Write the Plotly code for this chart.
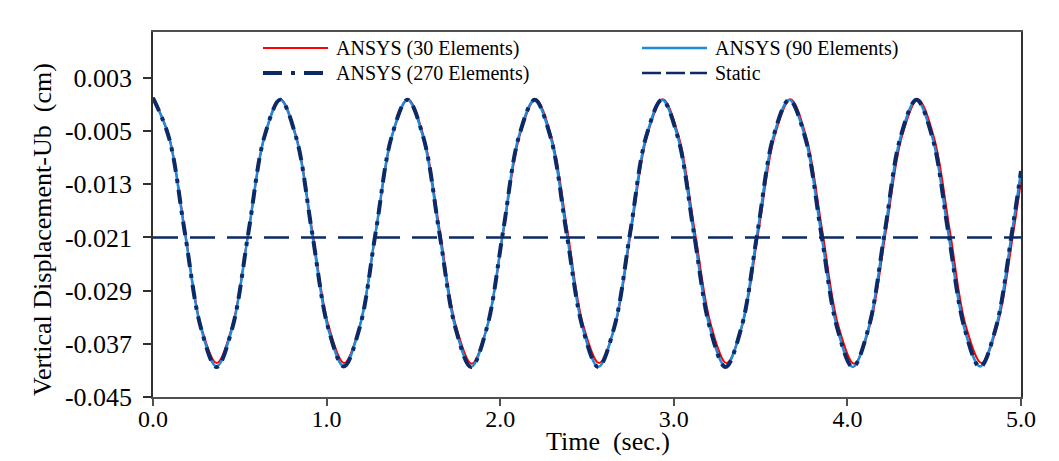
import plotly.graph_objects as go

# Time samples (s) and vertical displacement Ub (cm) for each mesh
t_30 = [0.000, 0.092, 0.184, 0.275, 0.367, 0.459, 0.551, 0.643, 0.734, 0.826,
        0.918, 1.010, 1.101, 1.193, 1.285, 1.377, 1.469, 1.560, 1.652, 1.744,
        1.836, 1.928, 2.019, 2.111, 2.203, 2.295, 2.387, 2.478, 2.570, 2.662,
        2.754, 2.845, 2.937, 3.029, 3.121, 3.213, 3.304, 3.396, 3.488, 3.580,
        3.672, 3.763, 3.855, 3.947, 4.039, 4.131, 4.222, 4.314, 4.406, 4.498,
        4.590, 4.681, 4.773, 4.865, 4.957, 5.000]
ub_30 = [0.0000, -0.0058, -0.0200, -0.0342, -0.0399, -0.0341, -0.0200, -0.0058, -0.0002, -0.0059,
         -0.0201, -0.0342, -0.0399, -0.0341, -0.0199, -0.0058, -0.0002, -0.0059, -0.0200, -0.0342,
         -0.0400, -0.0341, -0.0200, -0.0058, -0.0002, -0.0059, -0.0200, -0.0342, -0.0399, -0.0342,
         -0.0200, -0.0058, -0.0002, -0.0059, -0.0201, -0.0341, -0.0399, -0.0341, -0.0200, -0.0058,
         -0.0002, -0.0059, -0.0200, -0.0342, -0.0400, -0.0341, -0.0200, -0.0058, -0.0002, -0.0059,
         -0.0200, -0.0342, -0.0399, -0.0341, -0.0200, -0.0125]

t_fine = [0.000, 0.092, 0.183, 0.275, 0.366, 0.458, 0.550, 0.641, 0.733, 0.825,
          0.916, 1.008, 1.099, 1.191, 1.283, 1.374, 1.466, 1.558, 1.649, 1.741,
          1.832, 1.924, 2.016, 2.107, 2.199, 2.291, 2.382, 2.474, 2.565, 2.657,
          2.749, 2.840, 2.932, 3.024, 3.115, 3.207, 3.298, 3.390, 3.482, 3.573,
          3.665, 3.757, 3.848, 3.940, 4.031, 4.123, 4.215, 4.306, 4.398, 4.490,
          4.581, 4.673, 4.764, 4.856, 4.948, 5.000]
ub_90 = [0.0000, -0.0059, -0.0202, -0.0345, -0.0404, -0.0345, -0.0202, -0.0059, -0.0003, -0.0060,
         -0.0203, -0.0346, -0.0404, -0.0344, -0.0201, -0.0059, -0.0003, -0.0061, -0.0203, -0.0345,
         -0.0405, -0.0345, -0.0202, -0.0058, -0.0003, -0.0060, -0.0202, -0.0345, -0.0405, -0.0346,
         -0.0203, -0.0059, -0.0003, -0.0060, -0.0203, -0.0345, -0.0404, -0.0345, -0.0202, -0.0059,
         -0.0003, -0.0060, -0.0202, -0.0345, -0.0405, -0.0345, -0.0202, -0.0059, -0.0003, -0.0060,
         -0.0203, -0.0346, -0.0404, -0.0345, -0.0202, -0.0110]
ub_270 = [0.0000, -0.0060, -0.0202, -0.0345, -0.0405, -0.0345, -0.0202, -0.0059, -0.0003, -0.0060,
          -0.0202, -0.0345, -0.0404, -0.0345, -0.0202, -0.0059, -0.0003, -0.0060, -0.0202, -0.0345,
          -0.0405, -0.0345, -0.0202, -0.0059, -0.0003, -0.0060, -0.0203, -0.0345, -0.0405, -0.0345,
          -0.0202, -0.0059, -0.0003, -0.0060, -0.0202, -0.0345, -0.0405, -0.0345, -0.0202, -0.0059,
          -0.0003, -0.0060, -0.0202, -0.0345, -0.0405, -0.0345, -0.0202, -0.0059, -0.0003, -0.0060,
          -0.0202, -0.0345, -0.0405, -0.0345, -0.0202, -0.0110]

t_static = [0.0, 5.0]
ub_static = [-0.021, -0.021]

y_ticks = [-0.045, -0.037, -0.029, -0.021, -0.013, -0.005, 0.003]
y_tick_text = ["-0.045", "-0.037", "-0.029", "-0.021", "-0.013", "-0.005", "0.003"]
x_ticks = [0, 1, 2, 3, 4, 5]
x_tick_text = ["0.0", "1.0", "2.0", "3.0", "4.0", "5.0"]

RED = "#FF0000"
BLUE = "#1E8ADB"
NAVY = "#0B2A66"
DASHDOT = "14px,7px,4px,7px"
DASHED = "25px,12px"
FONT = "Liberation Serif"

series = [
    ("ANSYS (30 Elements)", t_30, ub_30, dict(color=RED, width=2)),
    ("ANSYS (90 Elements)", t_fine, ub_90, dict(color=BLUE, width=2.5)),
    ("ANSYS (270 Elements)", t_fine, ub_270, dict(color=NAVY, width=4, dash=DASHDOT)),
    ("Static", t_static, ub_static, dict(color=NAVY, width=2.5, dash=DASHED)),
]

fig = go.Figure()
for name, t, ub, line in series:
    shape = "linear" if name == "Static" else "spline"
    fig.add_trace(go.Scatter(x=t, y=ub, name=name, mode="lines",
                             line=dict(shape=shape, **line), showlegend=False))

# plot-area geometry in pixels, used to place the hand-drawn legend and titles
L, R, T, B = 153, 1021, 32, 397


def px(x):
    return (x - L) / (R - L)


def py(y):
    return (B - y) / (B - T)


legend_items = [
    ("ANSYS (30 Elements)", dict(color=RED, width=2), 263, 48),
    ("ANSYS (90 Elements)", dict(color=BLUE, width=2.5), 642, 48),
    ("ANSYS (270 Elements)", dict(color=NAVY, width=4, dash="19px,9px,4px,9px"), 263, 73),
    ("Static", dict(color=NAVY, width=2.5, dash="19px,5px"), 642, 73),
]
shapes = []
annotations = []
for label, line, x0, y0 in legend_items:
    shapes.append(dict(type="line", xref="paper", yref="paper",
                       x0=px(x0), x1=px(x0 + 65), y0=py(y0), y1=py(y0), line=line))
    annotations.append(dict(text=label, xref="paper", yref="paper",
                            x=px(x0 + 71), y=py(y0), xanchor="left", yanchor="middle",
                            showarrow=False, font=dict(family=FONT, size=20, color="#000")))

annotations.append(dict(text="Time  (sec.)", xref="paper", yref="paper",
                        x=px(608), y=py(441), xanchor="center", yanchor="middle",
                        showarrow=False, font=dict(family=FONT, size=26, color="#000")))
annotations.append(dict(text="Vertical Displacement-Ub  (cm)", xref="paper", yref="paper",
                        x=px(42), y=py(230), xanchor="center", yanchor="middle",
                        textangle=-90, showarrow=False,
                        font=dict(family=FONT, size=26, color="#000")))

fig.update_layout(
    width=1059, height=461,
    margin=dict(l=L, r=1059 - R, t=T, b=461 - B, pad=0),
    paper_bgcolor="white", plot_bgcolor="white",
    font=dict(family=FONT, size=24, color="#000"),
    shapes=shapes, annotations=annotations,
    showlegend=False,
)
fig.update_xaxes(range=[0, 5], tickvals=x_ticks, ticktext=x_tick_text,
                 showgrid=False, zeroline=False, showline=True, mirror=True,
                 linecolor="#505050", linewidth=2, ticks="outside", ticklen=7,
                 tickcolor="#505050", tickwidth=1.5,
                 tickfont=dict(family=FONT, size=24, color="#000"), ticklabelstandoff=-8)
fig.update_yaxes(range=[-0.045, 0.0099], tickvals=y_ticks, ticktext=y_tick_text,
                 showgrid=False, zeroline=False, showline=True, mirror=True,
                 linecolor="#303030", linewidth=1.5, ticks="outside", ticklen=8,
                 tickcolor="#303030", tickwidth=1.5,
                 tickfont=dict(family=FONT, size=26, color="#000"), ticklabelstandoff=6)

fig.write_html("out.html")
